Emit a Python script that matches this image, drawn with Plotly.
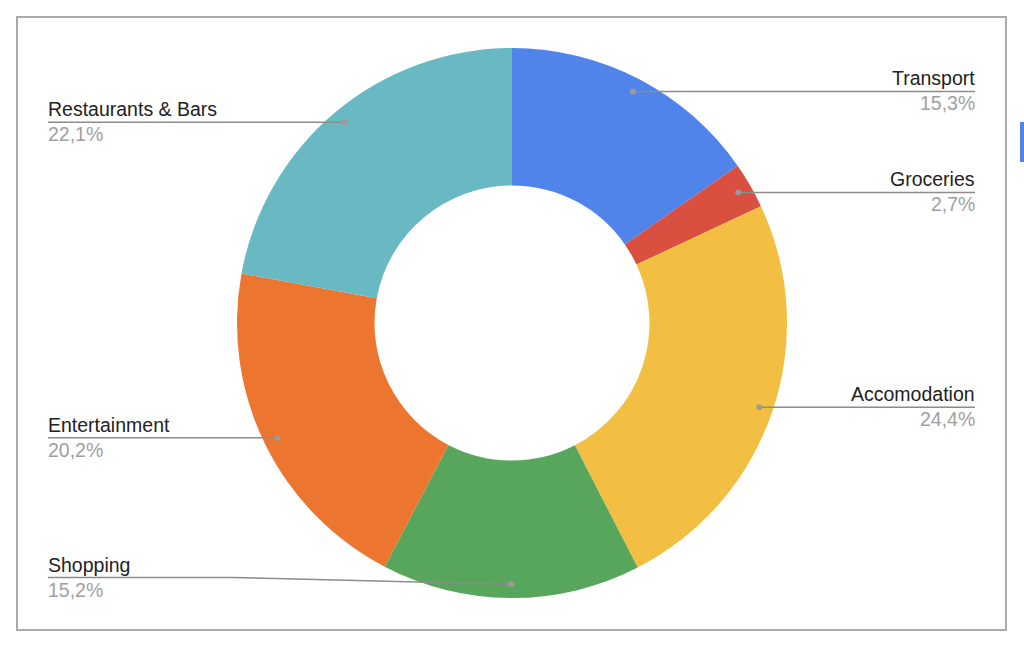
import math
import plotly.graph_objects as go

# ---- data ----
categories = ["Transport", "Groceries", "Accomodation", "Shopping", "Entertainment", "Restaurants & Bars"]
values = [15.3, 2.7, 24.4, 15.2, 20.2, 22.1]
colors = ["#5084EA", "#DA5040", "#F3BF42", "#58A65C", "#EC762F", "#68B9C4"]

# ---- layout helpers (pixels -> paper) ----
W, H = 1024, 647
CX, CY, R = 512, 323, 275


def px(x):
    return x / W


def py(y):
    return 1 - y / H


fig = go.Figure()
fig.add_trace(go.Pie(
    labels=categories,
    values=values,
    marker=dict(colors=colors, line=dict(width=0)),
    hole=0.5,
    sort=False,
    direction="clockwise",
    rotation=0,
    textinfo="none",
    hoverinfo="label+percent",
    showlegend=False,
    domain=dict(x=[px(CX - R), px(CX + R)], y=[py(CY + R), py(CY - R)]),
))

# leader lines and labels computed from data
total = sum(values)
right_end, left_end = 975, 48
label_y_override = {"Shopping": 577.5}
elbow_x = {"Shopping": 232}
line_col = "#8c8c8c"
FONT = "Liberation Sans, Arial"
FS = 19.5
shapes = []
annotations = []
cum = 0.0
for cat, v in zip(categories, values):
    mid = (cum + v / 2) / total * 2 * math.pi
    cum += v
    dx = CX + 0.95 * R * math.sin(mid)
    dy = CY - 0.95 * R * math.cos(mid)
    right = math.sin(mid) > 0.001
    ly = label_y_override.get(cat, dy)
    end = right_end if right else left_end
    if cat in elbow_x:
        ex = elbow_x[cat]
        path = f"M {px(dx)} {py(dy)} L {px(ex)} {py(ly)} L {px(end)} {py(ly)}"
    else:
        path = f"M {px(dx)} {py(dy)} L {px(end)} {py(ly)}"
    shapes.append(dict(type="path", xref="paper", yref="paper", path=path,
                       line=dict(color=line_col, width=1.5)))
    r = 3
    shapes.append(dict(type="circle", xref="paper", yref="paper",
                       x0=px(dx - r), x1=px(dx + r), y0=py(dy + r), y1=py(dy - r),
                       fillcolor="#9a9a9a", line=dict(width=0)))
    pct = f"{v / total * 100:.1f}".replace(".", ",") + "%"
    anchor = "right" if right else "left"
    xs = 2 if right else -2
    annotations.append(dict(x=px(end), y=py(ly), xref="paper", yref="paper",
                            text=cat, showarrow=False, xanchor=anchor, yanchor="bottom",
                            xshift=xs, yshift=0, font=dict(family=FONT, size=FS, color="#222222")))
    annotations.append(dict(x=px(end), y=py(ly), xref="paper", yref="paper",
                            text=pct, showarrow=False, xanchor=anchor, yanchor="top",
                            xshift=xs, yshift=1, font=dict(family=FONT, size=FS, color="#a0a0a0")))

# chart border and clipped legend swatch
shapes.append(dict(type="rect", xref="paper", yref="paper",
                   x0=px(17), x1=px(1006), y0=py(630), y1=py(17),
                   line=dict(color="#aaaaaa", width=2), fillcolor="rgba(0,0,0,0)"))
shapes.append(dict(type="rect", xref="paper", yref="paper",
                   x0=px(1020), x1=px(1025), y0=py(162), y1=py(122),
                   line=dict(width=0), fillcolor=colors[0]))

fig.update_layout(
    width=W, height=H,
    margin=dict(l=0, r=0, t=0, b=0),
    paper_bgcolor="white", plot_bgcolor="white",
    shapes=shapes, annotations=annotations,
)
fig.write_html("out.html", config={"displayModeBar": False},
               post_script="document.body.style.margin='0px';")
